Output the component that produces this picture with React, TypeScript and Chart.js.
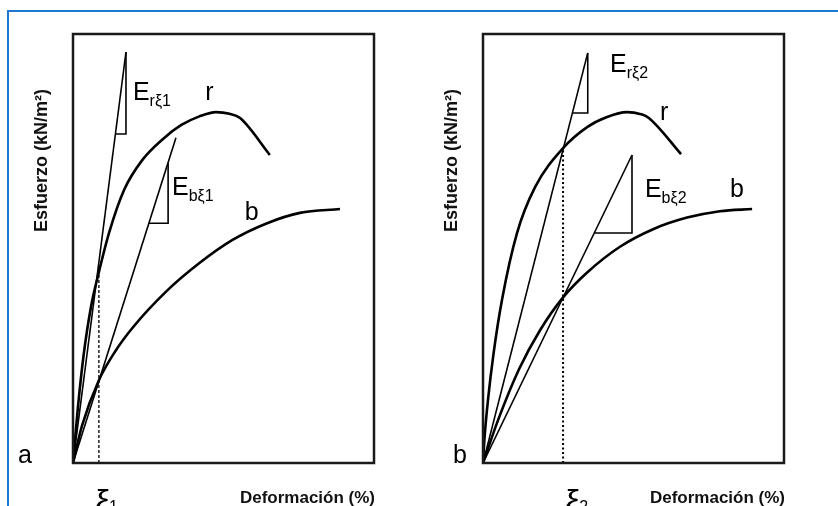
import React, { useEffect, useRef } from "react";
import { Chart, registerables } from "chart.js";

Chart.register(...registerables);

// ---------- Panel a ----------
const strainRA = [0, 1.5, 3.5, 6.0, 8.6, 12.0, 17.0, 23.0, 30.0, 36.0, 42.0, 47.5, 52.0, 55.5, 65.4];
const stressRA = [0, 12.0, 25.0, 36.5, 44.5, 53.7, 63.7, 70.6, 75.6, 78.8, 80.8, 81.8, 81.4, 80.4, 71.8];
const strainBA = [0, 3.0, 8.6, 14.0, 20.0, 31.0, 42.0, 53.0, 64.5, 75.4, 88.7];
const stressBA = [0, 8.7, 19.3, 26.0, 31.7, 40.0, 46.6, 52.0, 55.9, 58.3, 59.2];
const secRAStrain = [0, 17.6];
const secRAStress = [0, 95.8];
const triRAStrain = [14.1, 17.6, 17.6];
const triRAStress = [76.7, 76.7, 95.8];
const secBAStrain = [0, 34.2];
const secBAStress = [0, 75.8];
const triBAStrain = [25.2, 31.6, 31.6];
const triBAStress = [55.9, 55.9, 69.9];
const eps1Strain = [8.6, 8.6];
const eps1Stress = [0, 44.5];

// ---------- Panel b ----------
const strainRB = [0, 0.5, 1.66, 3.5, 6.3, 11.3, 17.3, 26.6, 34.6, 41.0, 47.8, 52.5, 55.0, 65.8];
const stressRB = [0, 5.8, 14.7, 25.5, 38.0, 53.6, 64.3, 73.4, 78.3, 80.6, 81.8, 81.3, 80.5, 72.0];
const strainBB = [0, 5.0, 12.0, 19.0, 26.6, 34.6, 45.5, 56.5, 67.8, 78.7, 89.4];
const stressBB = [0, 10.0, 21.9, 31.0, 38.6, 44.4, 50.4, 54.5, 57.2, 58.7, 59.2];
const secRBStrain = [0, 34.8];
const secRBStress = [0, 95.6];
const triRBStrain = [29.7, 34.8, 34.8];
const triRBStress = [81.6, 81.6, 95.6];
const secBBStrain = [0, 49.5];
const secBBStress = [0, 71.8];
const triBBStrain = [37.0, 49.5, 49.5];
const triBBStress = [53.6, 53.6, 71.8];
const eps2Strain = [26.6, 26.6];
const eps2Stress = [0, 73.2];

const xTitle = "Deformación (%)";
const yTitle = "Esfuerzo (kN/m²)";

const FONT = "'Liberation Sans', Arial, Helvetica, sans-serif";

const pts = (xs: number[], ys: number[]) => xs.map((x, i) => ({ x, y: ys[i] }));

type Lbl = { main: string; sub?: string; x: number; y: number };

const annotPlugin = {
  id: "annot",
  afterDatasetsDraw(chart: any, _args: any, opts: any) {
    const { ctx, chartArea: ca, scales } = chart;
    const xs = scales.x;
    const ys = scales.y;
    ctx.save();
    // box
    ctx.strokeStyle = "#1a1a1a";
    ctx.lineWidth = 2.5;
    ctx.strokeRect(ca.left, ca.top, ca.right - ca.left, ca.bottom - ca.top);
    ctx.fillStyle = "#000";
    ctx.textBaseline = "alphabetic";
    // in-plot labels
    (opts.labels as Lbl[]).forEach((l) => {
      const px = xs.getPixelForValue(l.x);
      const py = ys.getPixelForValue(l.y);
      ctx.font = `25px ${FONT}`;
      ctx.textAlign = "left";
      ctx.fillText(l.main, px, py);
      if (l.sub) {
        const w = ctx.measureText(l.main).width;
        ctx.font = `16px ${FONT}`;
        ctx.fillText(l.sub, px + w, py + 6);
      }
    });
    // panel letter
    ctx.font = `25px ${FONT}`;
    ctx.textAlign = "left";
    ctx.fillText(opts.panel, ca.left + opts.panelDx, ca.bottom);
    // strain marker below axis
    const ex = xs.getPixelForValue(opts.epsX);
    ctx.font = `34px ${FONT}`;
    ctx.fillText("ξ", ex + opts.epsDx, ca.bottom + 50);
    const ew = ctx.measureText("ξ").width;
    ctx.font = `16px ${FONT}`;
    ctx.fillText(opts.epsSub, ex + opts.epsDx + ew - 1, ca.bottom + 49);
    // x title
    ctx.font = `bold 17px ${FONT}`;
    ctx.fillStyle = "#111";
    ctx.textAlign = "right";
    ctx.fillText(xTitle, ca.right + 1, ca.bottom + 40);
    // y title
    ctx.save();
    ctx.translate(ca.left - 31, (ca.top + ca.bottom) / 2 - 88);
    ctx.rotate(-Math.PI / 2);
    ctx.textAlign = "center";
    ctx.textBaseline = "middle";
    ctx.font = `bold 18px ${FONT}`;
    ctx.fillText(yTitle, 0, 0);
    ctx.restore();
    ctx.restore();
  },
};

function makeDatasets(
  r: [number[], number[]],
  b: [number[], number[]],
  sr: [number[], number[]],
  tr: [number[], number[]],
  sb: [number[], number[]],
  tb: [number[], number[]],
  eps: [number[], number[]],
  dash: number[],
  dashWidth: number
) {
  const base = { borderColor: "#000", pointRadius: 0, fill: false };
  return [
    { ...base, label: "r", data: pts(r[0], r[1]), borderWidth: 2.6, cubicInterpolationMode: "monotone" },
    { ...base, label: "b", data: pts(b[0], b[1]), borderWidth: 2.6, cubicInterpolationMode: "monotone" },
    { ...base, label: "Er", data: pts(sr[0], sr[1]), borderWidth: 1.6, tension: 0 },
    { ...base, label: "Er tri", data: pts(tr[0], tr[1]), borderWidth: 1.6, tension: 0 },
    { ...base, label: "Eb", data: pts(sb[0], sb[1]), borderWidth: 1.6, tension: 0 },
    { ...base, label: "Eb tri", data: pts(tb[0], tb[1]), borderWidth: 1.6, tension: 0 },
    { ...base, label: "eps", data: pts(eps[0], eps[1]), borderWidth: dashWidth, borderDash: dash, tension: 0 },
  ];
}

function Panel(props: {
  left: number;
  padding: { left: number; right: number; top: number; bottom: number };
  datasets: any[];
  annot: any;
}) {
  const ref = useRef<HTMLCanvasElement | null>(null);
  useEffect(() => {
    if (!ref.current) return;
    const chart = new Chart(ref.current, {
      type: "line",
      data: { datasets: props.datasets },
      options: {
        animation: false,
        responsive: false,
        devicePixelRatio: 1,
        layout: { padding: props.padding },
        scales: {
          x: { type: "linear", min: 0, max: 100, display: false },
          y: { type: "linear", min: 0, max: 100, display: false },
        },
        plugins: {
          legend: { display: false },
          tooltip: { enabled: false },
          annot: props.annot,
        } as any,
      },
      plugins: [annotPlugin],
    });
    return () => chart.destroy();
  }, []);
  return (
    <canvas
      ref={ref}
      width={419}
      height={506}
      style={{ position: "absolute", left: props.left, top: 0, width: 419, height: 506 }}
    />
  );
}

export default function App() {
  const dsA = makeDatasets(
    [strainRA, stressRA],
    [strainBA, stressBA],
    [secRAStrain, secRAStress],
    [triRAStrain, triRAStress],
    [secBAStrain, secBAStress],
    [triBAStrain, triBAStress],
    [eps1Strain, eps1Stress],
    [3, 2],
    1.3
  );
  const dsB = makeDatasets(
    [strainRB, stressRB],
    [strainBB, stressBB],
    [secRBStrain, secRBStress],
    [triRBStrain, triRBStress],
    [secBBStrain, secBBStress],
    [triBBStrain, triBBStress],
    [eps2Strain, eps2Stress],
    [2, 2.5],
    2
  );
  const annotA = {
    panel: "a",
    panelDx: -55,
    epsX: eps1Strain[0],
    epsDx: -4,
    epsSub: "1",
    labels: [
      { main: "E", sub: "rξ1", x: 19.9, y: 84.6 },
      { main: "r", x: 43.9, y: 84.6 },
      { main: "E", sub: "bξ1", x: 32.9, y: 62.5 },
      { main: "b", x: 57.1, y: 56.6 },
    ],
  };
  const annotB = {
    panel: "b",
    panelDx: -30,
    epsX: eps2Strain[0],
    epsDx: 2,
    epsSub: "2",
    labels: [
      { main: "E", sub: "rξ2", x: 42.2, y: 91.1 },
      { main: "r", x: 58.8, y: 80.0 },
      { main: "E", sub: "bξ2", x: 53.8, y: 62.0 },
      { main: "b", x: 82.1, y: 62.0 },
    ],
  };
  return (
    <div style={{ position: "fixed", left: 0, top: 0, width: 838, height: 506, background: "#fff", overflow: "hidden" }}>
      <div
        style={{
          position: "absolute",
          left: 7,
          top: 10,
          width: 840,
          height: 520,
          borderTop: "2px solid #1e78d2",
          borderLeft: "2px solid #1e78d2",
        }}
      />
      <Panel left={0} padding={{ left: 73, right: 45, top: 34, bottom: 43 }} datasets={dsA} annot={annotA} />
      <Panel left={419} padding={{ left: 64, right: 54, top: 34, bottom: 43 }} datasets={dsB} annot={annotB} />
    </div>
  );
}
